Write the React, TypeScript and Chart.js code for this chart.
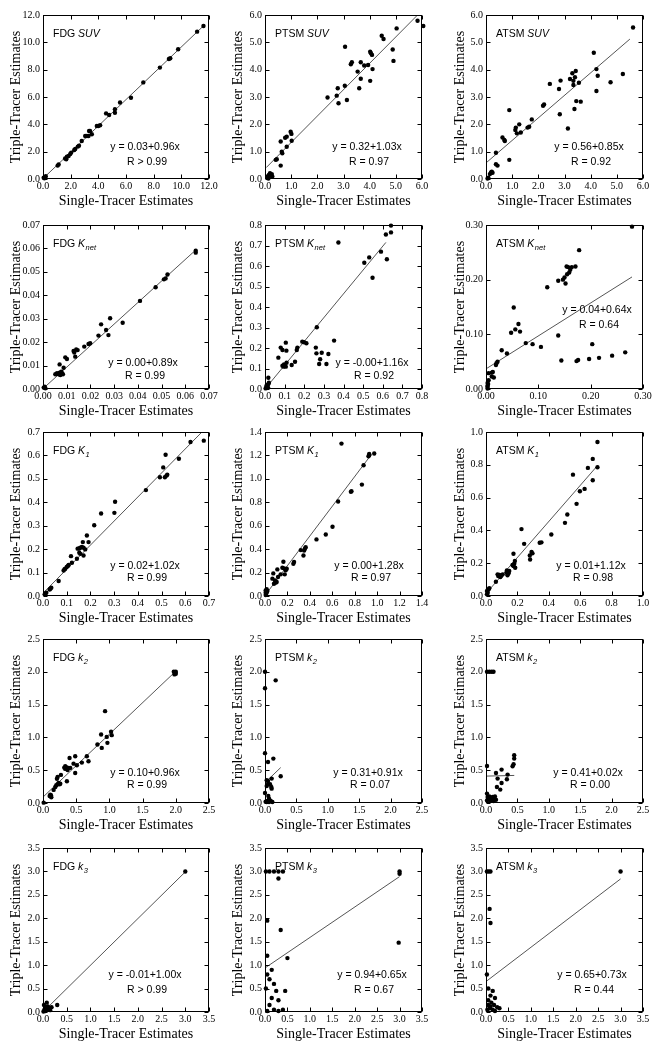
import React, { useEffect, useRef } from 'react';
import { Chart, registerables } from 'chart.js';
Chart.register(...registerables);

const SERIF = '"Liberation Serif", "Times New Roman", serif';
const SANS = '"Liberation Sans", Arial, sans-serif';

// ---------- data (single-tracer x, triple-tracer y) ----------
const fdgSuv = [[0.05,0.1],[0.15,0.1],[0.2,0.2],[0.1,0.05],[1.06,0.98],[1.13,1.07],[1.6,1.5],[1.68,1.44],[1.73,1.63],[1.85,1.68],[1.97,1.83],[2.04,1.93],[2.26,2.12],[2.33,2.2],[2.52,2.37],[2.6,2.44],[2.8,2.78],[3.05,3.15],[3.17,3.15],[3.29,3.15],[3.33,3.51],[3.4,3.51],[3.53,3.27],[3.89,3.88],[4.0,3.88],[4.13,3.93],[4.56,4.8],[4.78,4.68],[5.2,4.85],[5.2,5.1],[5.57,5.6],[6.36,5.95],[7.25,7.07],[8.45,8.15],[9.1,8.78],[9.2,8.83],[9.77,9.49],[11.14,10.78],[11.6,11.2]];
const fdgSuvFit = [[0.05,0.08],[11.7,11.3]];

const ptsmSuv = [[0.09,0.09],[0.15,0.15],[0.19,0.21],[0.22,0.12],[0.26,0.18],[0.13,0.02],[0.28,0.09],[0.41,0.7],[0.45,0.72],[0.6,0.49],[0.6,1.37],[0.64,1.0],[0.66,0.94],[0.77,1.51],[0.83,1.55],[0.83,1.18],[0.98,1.73],[1.01,1.65],[1.02,1.4],[2.39,2.98],[2.74,3.05],[2.78,3.32],[2.81,2.77],[3.05,3.41],[3.06,4.84],[3.13,2.89],[3.28,4.2],[3.32,4.27],[3.54,3.93],[3.6,3.32],[3.66,4.27],[3.66,3.67],[3.79,4.15],[3.94,4.17],[4.02,4.66],[4.05,4.6],[4.09,4.54],[4.02,3.59],[4.11,4.02],[4.46,5.24],[4.53,5.12],[4.88,4.74],[4.91,4.32],[5.03,5.51],[5.83,5.79],[6.05,5.6]];
const ptsmSuvFit = [[0.05,0.42],[5.83,6.0]];

const atsmSuv = [[0.06,0.02],[0.09,0.05],[0.15,0.18],[0.19,0.24],[0.25,0.23],[0.22,0.27],[0.38,0.54],[0.44,0.49],[0.38,0.96],[0.89,0.7],[0.63,1.52],[0.7,1.43],[0.72,1.39],[0.89,2.52],[1.12,1.79],[1.14,1.88],[1.18,1.67],[1.27,2.0],[1.33,1.7],[1.59,1.88],[1.65,1.91],[1.75,2.18],[2.18,2.68],[2.22,2.73],[2.44,3.48],[2.79,3.29],[2.82,2.37],[2.85,3.6],[3.13,1.85],[3.21,3.66],[3.3,3.87],[3.34,3.59],[3.34,3.44],[3.4,3.72],[3.43,3.95],[3.38,2.56],[3.45,2.85],[3.55,3.52],[3.62,2.83],[4.12,4.62],[4.22,4.02],[4.22,3.22],[4.27,3.78],[4.76,3.54],[5.23,3.84],[5.62,5.54]];
const atsmSuvFit = [[0.04,0.62],[5.5,5.12]];

const fdgKnet = [[0.0003,0.0006],[0.0007,0.001],[0.001,0.0003],[0.0052,0.0063],[0.0059,0.0067],[0.0066,0.0063],[0.007,0.007],[0.0073,0.006],[0.008,0.0067],[0.0084,0.0063],[0.0077,0.0074],[0.007,0.0105],[0.0087,0.0091],[0.0094,0.0135],[0.0101,0.0128],[0.0129,0.0162],[0.0132,0.0156],[0.0136,0.0138],[0.014,0.0169],[0.0146,0.0166],[0.0174,0.0181],[0.0192,0.0192],[0.0199,0.0195],[0.0234,0.0228],[0.0245,0.0276],[0.0266,0.0252],[0.0276,0.023],[0.0283,0.0302],[0.0336,0.0283],[0.0409,0.0376],[0.0475,0.0434],[0.051,0.0468],[0.0517,0.0472],[0.0525,0.0489],[0.0644,0.059],[0.0644,0.0582]];
const fdgKnetFit = [[0.0003,0.0004],[0.0647,0.0596]];

const ptsmKnet = [[0.003,0.003],[0.009,0.011],[0.012,0.02],[0.017,0.024],[0.02,0.031],[0.007,0.015],[0.015,0.008],[0.017,0.055],[0.068,0.153],[0.08,0.202],[0.089,0.19],[0.089,0.114],[0.094,0.109],[0.1,0.112],[0.106,0.109],[0.097,0.12],[0.106,0.226],[0.109,0.187],[0.11,0.128],[0.136,0.117],[0.153,0.133],[0.162,0.19],[0.165,0.202],[0.19,0.231],[0.199,0.228],[0.211,0.223],[0.264,0.301],[0.259,0.202],[0.262,0.174],[0.276,0.122],[0.281,0.145],[0.289,0.177],[0.313,0.122],[0.323,0.171],[0.352,0.236],[0.374,0.715],[0.506,0.616],[0.531,0.642],[0.548,0.543],[0.591,0.67],[0.621,0.633],[0.616,0.754],[0.642,0.797],[0.642,0.764]];
const ptsmKnetFit = [[0,0.0],[0.616,0.715]];

const atsmKnet = [[0.003,0.001],[0.003,0.004],[0.003,0.006],[0.004,0.009],[0.003,0.011],[0.005,0.016],[0.005,0.029],[0.011,0.03],[0.013,0.031],[0.011,0.023],[0.015,0.021],[0.019,0.044],[0.02,0.047],[0.022,0.05],[0.03,0.071],[0.04,0.065],[0.048,0.103],[0.053,0.149],[0.056,0.109],[0.062,0.119],[0.065,0.105],[0.076,0.084],[0.089,0.082],[0.105,0.077],[0.117,0.186],[0.144,0.052],[0.138,0.098],[0.138,0.198],[0.147,0.2],[0.15,0.204],[0.152,0.193],[0.154,0.224],[0.157,0.223],[0.161,0.218],[0.159,0.213],[0.155,0.21],[0.164,0.223],[0.171,0.224],[0.173,0.051],[0.176,0.053],[0.178,0.254],[0.197,0.055],[0.203,0.082],[0.216,0.057],[0.241,0.061],[0.266,0.067],[0.279,0.297]];
const atsmKnetFit = [[0.002,0.038],[0.279,0.205]];

const fdgK1 = [[0.007,0.007],[0.01,0.011],[0.014,0.014],[0.031,0.031],[0.035,0.035],[0.028,0.028],[0.066,0.064],[0.087,0.109],[0.091,0.114],[0.094,0.116],[0.1,0.124],[0.105,0.128],[0.108,0.132],[0.118,0.17],[0.122,0.142],[0.143,0.159],[0.146,0.202],[0.153,0.203],[0.157,0.206],[0.153,0.185],[0.157,0.18],[0.164,0.209],[0.171,0.206],[0.168,0.23],[0.171,0.173],[0.178,0.199],[0.185,0.258],[0.192,0.23],[0.216,0.302],[0.245,0.352],[0.301,0.355],[0.304,0.402],[0.434,0.452],[0.493,0.507],[0.507,0.549],[0.514,0.507],[0.517,0.603],[0.524,0.518],[0.521,0.514],[0.573,0.586],[0.622,0.657],[0.678,0.663]];
const fdgK1Fit = [[0,0.012],[0.68,0.71]];

const ptsmK1 = [[0.006,0.009],[0.012,0.023],[0.015,0.037],[0.006,0.048],[0.021,0.043],[0.015,0.057],[0.006,0.028],[0.066,0.148],[0.074,0.193],[0.08,0.105],[0.095,0.114],[0.104,0.119],[0.089,0.133],[0.11,0.227],[0.116,0.162],[0.14,0.185],[0.155,0.241],[0.17,0.236],[0.164,0.293],[0.176,0.185],[0.194,0.233],[0.185,0.22],[0.253,0.275],[0.259,0.29],[0.319,0.392],[0.343,0.346],[0.349,0.389],[0.357,0.406],[0.363,0.417],[0.459,0.483],[0.542,0.525],[0.602,0.591],[0.652,0.807],[0.682,1.301],[0.766,0.889],[0.771,0.895],[0.864,0.951],[0.879,1.116],[0.923,1.193],[0.929,1.213],[0.929,1.201],[0.974,1.216]];
const ptsmK1Fit = [[0,0.005],[0.95,1.21]];

const atsmK1 = [[0.006,0.01],[0.011,0.02],[0.006,0.03],[0.017,0.041],[0.021,0.047],[0.011,0.037],[0.063,0.087],[0.074,0.132],[0.085,0.128],[0.078,0.122],[0.091,0.116],[0.099,0.126],[0.106,0.132],[0.095,0.122],[0.131,0.142],[0.133,0.156],[0.137,0.126],[0.144,0.138],[0.148,0.152],[0.169,0.189],[0.175,0.183],[0.18,0.197],[0.184,0.213],[0.175,0.258],[0.186,0.172],[0.226,0.408],[0.243,0.318],[0.279,0.247],[0.281,0.223],[0.29,0.268],[0.296,0.26],[0.342,0.325],[0.353,0.327],[0.416,0.375],[0.503,0.446],[0.518,0.497],[0.554,0.74],[0.577,0.562],[0.598,0.639],[0.628,0.653],[0.649,0.781],[0.68,0.706],[0.68,0.836],[0.71,0.785],[0.71,0.939]];
const atsmK1Fit = [[0,0.015],[0.71,0.795]];

const fdgK2 = [[0.01,0.005],[0.1,0.107],[0.12,0.117],[0.11,0.127],[0.125,0.087],[0.16,0.2],[0.185,0.244],[0.2,0.27],[0.22,0.285],[0.21,0.37],[0.22,0.397],[0.235,0.305],[0.25,0.285],[0.26,0.295],[0.27,0.428],[0.32,0.54],[0.335,0.56],[0.335,0.52],[0.35,0.545],[0.37,0.504],[0.36,0.331],[0.4,0.687],[0.385,0.535],[0.41,0.535],[0.46,0.6],[0.485,0.713],[0.485,0.458],[0.51,0.575],[0.585,0.616],[0.66,0.713],[0.685,0.636],[0.82,0.891],[0.875,1.044],[0.885,0.84],[0.935,1.4],[0.96,1.008],[0.97,0.917],[1.025,1.085],[1.035,1.034],[1.97,2.0],[1.99,1.99],[2.0,1.97],[1.98,1.96],[2.0,2.0]];
const fdgK2Fit = [[0,0.09],[1.98,1.99]];

const ptsmK2 = [[0,2.0],[0,1.75],[0.17,1.87],[0,0.76],[0.048,0.626],[0.133,0.677],[0,0.153],[0.027,0.346],[0.048,0.336],[0.027,0.26],[0.048,0.285],[0.08,0.285],[0.1,0.244],[0.106,0.372],[0.106,0.219],[0.25,0.407],[0.053,0.107],[0.064,0.066],[0.074,0.04],[0.037,0.03],[0.01,0.02],[0.09,0.03],[0.117,0.015],[0.027,0.015],[0.064,0.015]];
const ptsmK2Fit = [[0,0.31],[0.25,0.54]];

const atsmK2 = [[0.016,2.0],[0.053,2.0],[0.09,2.0],[0.12,2.0],[0.016,0.565],[0.016,0.04],[0.042,0.066],[0.053,0.1],[0.08,0.066],[0.106,0.092],[0.132,0.066],[0.143,0.1],[0.016,0.143],[0.069,0.04],[0.122,0.03],[0.159,0.05],[0.026,0.092],[0.159,0.458],[0.174,0.244],[0.185,0.372],[0.227,0.204],[0.248,0.509],[0.248,0.305],[0.333,0.362],[0.344,0.433],[0.423,0.56],[0.439,0.59],[0.449,0.728],[0.449,0.677]];
const atsmK2Fit = [[0,0.41],[0.45,0.42]];

const fdgK3 = [[0.01,0.01],[0.03,0.05],[0.05,0.1],[0.07,0.06],[0.1,0.12],[0.12,0.08],[0.15,0.04],[0.05,0.02],[0.02,0.15],[0.08,0.2],[0.3,0.15],[0.18,0.1],[3.0,3.0]];
const fdgK3Fit = [[0,0.0],[3.0,2.99]];

const ptsmK3 = [[0.02,3.0],[0.1,3.0],[0.2,3.0],[0.3,3.0],[0.4,3.0],[0.3,2.85],[0.05,1.95],[0.05,1.2],[0.35,1.75],[0.5,1.15],[0.05,0.8],[0.1,0.7],[0.2,0.6],[0.25,0.45],[0.45,0.45],[0.02,0.5],[0.15,0.3],[0.3,0.25],[0.1,0.15],[0.2,0.05],[0.3,0.02],[0.05,0.02],[0.4,0.05],[0.15,0.9],[3.0,3.0],[3.0,2.95],[2.98,1.48]];
const ptsmK3Fit = [[0,0.94],[3.0,2.89]];

const atsmK3 = [[0.02,3.0],[0.06,3.0],[0.1,3.0],[0.08,2.2],[0.1,1.9],[0.02,0.8],[0.05,0.5],[0.15,0.45],[0.1,0.35],[0.2,0.3],[0.05,0.25],[0.12,0.2],[0.18,0.15],[0.25,0.1],[0.08,0.08],[0.03,0.05],[0.15,0.05],[0.2,0.02],[0.3,0.08],[0.1,0.12],[0.05,0.15],[3.0,3.0]];
const atsmK3Fit = [[0,0.65],[3.0,2.84]];

const tracers = ['FDG', 'PTSM', 'ATSM'];
const params = [['SUV', ''], ['K', 'net'], ['K', '1'], ['k', '2'], ['k', '3']];
const axisMax = [[12, 6, 6], [0.07, 0.8, 0.3], [0.7, 1.4, 1.0], [2.5, 2.5, 2.5], [3.5, 3.5, 3.5]];
const axisStep = [[2, 1, 1], [0.01, 0.1, 0.1], [0.1, 0.2, 0.2], [0.5, 0.5, 0.5], [0.5, 0.5, 0.5]];
const axisDecimals = [[1, 1, 1], [2, 1, 2], [1, 1, 1], [1, 1, 1], [1, 1, 1]];
const equations = [
  ['y = 0.03+0.96x', 'y = 0.32+1.03x', 'y = 0.56+0.85x'],
  ['y = 0.00+0.89x', 'y = -0.00+1.16x', 'y = 0.04+0.64x'],
  ['y = 0.02+1.02x', 'y = 0.00+1.28x', 'y = 0.01+1.12x'],
  ['y = 0.10+0.96x', 'y = 0.31+0.91x', 'y = 0.41+0.02x'],
  ['y = -0.01+1.00x', 'y = 0.94+0.65x', 'y = 0.65+0.73x'],
];
const rValues = [
  ['R > 0.99', 'R = 0.97', 'R = 0.92'],
  ['R = 0.99', 'R = 0.92', 'R = 0.64'],
  ['R = 0.99', 'R = 0.97', 'R = 0.98'],
  ['R = 0.99', 'R = 0.07', 'R = 0.00'],
  ['R > 0.99', 'R = 0.67', 'R = 0.44'],
];
const points = [
  [fdgSuv, ptsmSuv, atsmSuv],
  [fdgKnet, ptsmKnet, atsmKnet],
  [fdgK1, ptsmK1, atsmK1],
  [fdgK2, ptsmK2, atsmK2],
  [fdgK3, ptsmK3, atsmK3],
];
const fits = [
  [fdgSuvFit, ptsmSuvFit, atsmSuvFit],
  [fdgKnetFit, ptsmKnetFit, atsmKnetFit],
  [fdgK1Fit, ptsmK1Fit, atsmK1Fit],
  [fdgK2Fit, ptsmK2Fit, atsmK2Fit],
  [fdgK3Fit, ptsmK3Fit, atsmK3Fit],
];

// ---------- layout (pixels) ----------
const rowTops = [0, 210, 417, 624, 833];
const colLefts = [0, 222, 444];
const axisWidth = [43, 43, 42];
const padRight = [13, 22, 23];
// equation text positions within each canvas: [centerX, line1Y, line2Y]
const eqPos = [
  [[145, 147, 162], [145, 147, 162], [145, 147, 162]],
  [[143, 153, 166], [150, 153, 166], [153, 100, 115]],
  [[145, 149, 161], [147, 149, 161], [147, 149, 161]],
  [[145, 149, 161], [146, 149, 161], [144, 149, 161]],
  [[145, 142, 157], [150, 142, 157], [148, 142, 157]],
];

function makeFrame(r: number, c: number) {
  return {
    id: 'frame' + r + c,
    afterDraw(chart: any) {
      const { ctx, chartArea } = chart;
      const { left, right, top, bottom } = chartArea;
      const xs = chart.scales.x;
      const ys = chart.scales.y;
      ctx.save();
      ctx.strokeStyle = '#000';
      ctx.lineWidth = 1;
      const L = Math.round(left) + 0.5, R = Math.round(right) - 0.5;
      const T = Math.round(top) + 0.5, B = Math.round(bottom) - 0.5;
      ctx.strokeRect(L, T, R - L, B - T);
      ctx.beginPath();
      xs.ticks.forEach((t: any) => {
        const px = Math.round(xs.getPixelForValue(t.value)) + 0.5;
        ctx.moveTo(px, B); ctx.lineTo(px, B - 4);
        ctx.moveTo(px, T); ctx.lineTo(px, T + 4);
      });
      ys.ticks.forEach((t: any) => {
        const py = Math.round(ys.getPixelForValue(t.value)) + 0.5;
        ctx.moveTo(L, py); ctx.lineTo(L + 4, py);
        ctx.moveTo(R, py); ctx.lineTo(R - 4, py);
      });
      ctx.stroke();

      // panel label
      ctx.fillStyle = '#000';
      ctx.textBaseline = 'middle';
      ctx.textAlign = 'left';
      let x = left + 10;
      const y = top + 19;
      ctx.font = `10.5px ${SANS}`;
      const t1 = tracers[c] + ' ';
      ctx.fillText(t1, x, y);
      x += ctx.measureText(t1).width;
      ctx.font = `italic 10.5px ${SANS}`;
      ctx.fillText(params[r][0], x, y);
      x += ctx.measureText(params[r][0]).width;
      if (params[r][1]) {
        ctx.font = `italic 7.5px ${SANS}`;
        ctx.fillText(params[r][1], x + 0.5, y + 3.5);
      }

      // equation
      ctx.font = `10.5px ${SANS}`;
      ctx.textAlign = 'center';
      const [ex, ey1, ey2] = eqPos[r][c];
      ctx.fillText(equations[r][c], ex, ey1);
      ctx.fillText(rValues[r][c], ex + 2, ey2);
      ctx.restore();
    },
  };
}

function Panel({ r, c }: { r: number; c: number }) {
  const ref = useRef<HTMLCanvasElement>(null);
  useEffect(() => {
    const max = axisMax[r][c];
    const step = axisStep[r][c];
    const dec = axisDecimals[r][c];
    const tickFont = { family: SERIF, size: 10 };
    const titleFont = { family: SERIF, size: 14 };
    const chart = new Chart(ref.current as HTMLCanvasElement, {
      type: 'scatter',
      data: {
        datasets: [
          {
            data: points[r][c].map(([x, y]) => ({ x, y })),
            pointRadius: 2.2,
            pointBackgroundColor: '#000',
            pointBorderWidth: 0,
            showLine: false,
            clip: false as any,
            order: 1,
          },
          {
            data: fits[r][c].map(([x, y]) => ({ x, y })),
            showLine: true,
            pointRadius: 0,
            borderColor: '#555',
            borderWidth: 1,
            order: 2,
          } as any,
        ],
      },
      options: {
        animation: false,
        responsive: false,
        devicePixelRatio: 1,
        events: [],
        layout: { padding: { left: 0, right: padRight[c], top: 15, bottom: 0 } },
        plugins: { legend: { display: false }, tooltip: { enabled: false } },
        scales: {
          x: {
            type: 'linear',
            min: 0,
            max,
            ticks: {
              stepSize: step,
              autoSkip: false,
              maxRotation: 0,
              padding: 1,
              color: '#000',
              font: tickFont,
              callback: (v: any) => Number(v).toFixed(dec),
            },
            grid: { display: false, drawTicks: false },
            border: { display: false },
            title: { display: true, text: 'Single-Tracer Estimates', color: '#000', font: titleFont, padding: { top: 0, bottom: 0 } },
            afterFit: (s: any) => { s.height = 31; },
          },
          y: {
            type: 'linear',
            min: 0,
            max,
            ticks: {
              stepSize: step,
              autoSkip: false,
              padding: 3,
              color: '#000',
              font: tickFont,
              callback: (v: any) => Number(v).toFixed(dec),
            },
            grid: { display: false, drawTicks: false },
            border: { display: false },
            title: { display: true, text: 'Triple-Tracer Estimates', color: '#000', font: titleFont, padding: { top: 7.6, bottom: 0 } },
            afterFit: (s: any) => { s.width = axisWidth[c]; },
          },
        },
      } as any,
      plugins: [makeFrame(r, c)],
    });
    return () => chart.destroy();
  }, [r, c]);
  return (
    <canvas
      ref={ref}
      width={222}
      height={210}
      style={{ position: 'absolute', left: colLefts[c], top: rowTops[r], width: 222, height: 210 }}
    />
  );
}

export default function App() {
  const cells: React.ReactNode[] = [];
  for (let r = 0; r < 5; r++) {
    for (let c = 0; c < 3; c++) {
      cells.push(<Panel key={r + '-' + c} r={r} c={c} />);
    }
  }
  return (
    <div style={{ position: 'absolute', left: 0, top: 0, width: 666, height: 1050, background: '#fff' }}>
      {cells}
    </div>
  );
}
